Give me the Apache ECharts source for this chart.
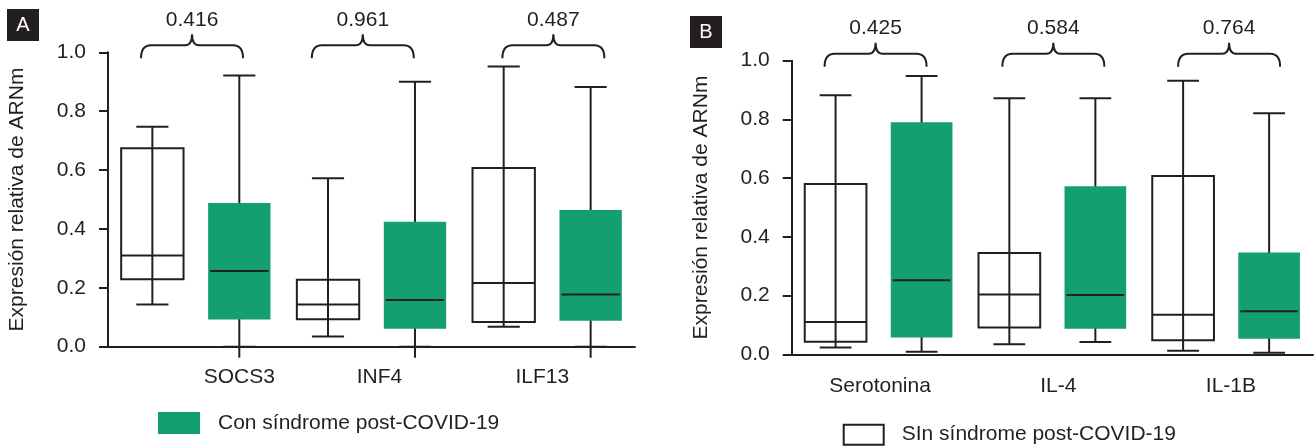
<!DOCTYPE html>
<html><head><meta charset="utf-8">
<script src="https://cdn.jsdelivr.net/npm/echarts@6/dist/echarts.min.js"></script>
<style>html,body{margin:0;padding:0;background:#fff}#c{width:1316px;height:446px}</style>
</head><body><div id="c"></div>
<script>
// ---------- data ----------
const categoriesA = ['SOCS3', 'INF4', 'ILF13'];
const categoriesB = ['Serotonina', 'IL-4', 'IL-1B'];
// each entry: [min, Q1, median, Q3, max]
const sinA = [[0.143, 0.229, 0.310, 0.674, 0.747], [0.035, 0.093, 0.143, 0.227, 0.572], [0.068, 0.084, 0.216, 0.607, 0.952]];
const conA = [[0.000, 0.092, 0.257, 0.488, 0.921], [0.000, 0.061, 0.159, 0.424, 0.900], [0.000, 0.088, 0.177, 0.464, 0.882]];
const sinB = [[0.023, 0.043, 0.110, 0.580, 0.882], [0.034, 0.091, 0.204, 0.345, 0.872], [0.012, 0.048, 0.135, 0.607, 0.932]];
const conB = [[0.009, 0.057, 0.252, 0.790, 0.948], [0.042, 0.087, 0.202, 0.572, 0.872], [0.005, 0.053, 0.147, 0.347, 0.821]];
const pValuesA = ['0.416', '0.961', '0.487'];
const pValuesB = ['0.425', '0.584', '0.764'];
const yMin = 0, yMax = 1, yStep = 0.2;
const seriesNames = ['SIn síndrome post-COVID-19', 'Con síndrome post-COVID-19'];
const yTitle = 'Expresión relativa de ARNm';
const panelLabels = ['A', 'B'];

// ---------- layout / style ----------
const FONT = 'Liberation Sans, Arial, sans-serif';
const INK = '#231f20';
const GREEN = '#13a06e';
const FS = 21;
const braceCuspA = [-3.8, -8.7, 6.2], braceCuspB = [-3, 1, 3];
const labelShiftA = [43.5, 8, -4.8], labelShiftB = [1.5, 6, 4.8];

function labelRich(shifts) {
  const rich = {};
  shifts.forEach((s, i) => {
    rich['c' + i] = {
      fontSize: FS, fontFamily: FONT, color: INK,
      padding: s >= 0 ? [0, 0, 0, 2 * s] : [0, -2 * s, 0, 0]
    };
  });
  return rich;
}

function boxRender(sign, filled, tickBelow) {
  return function (params, api) {
    const ci = api.value(0);
    const band = api.size([1, 0])[0];
    const cx = api.coord([ci, 0])[0] + sign * band * 0.2475;
    const w = band * 0.355, cap = band * 0.183;
    const y = k => api.coord([ci, api.value(k)])[1];
    const yMn = y(1), yQ1 = y(2), yMd = y(3), yQ3 = y(4), yMx = y(5);
    const ls = { stroke: INK, lineWidth: 2 };
    const ch = [];
    ch.push({ type: 'line', shape: { x1: cx, y1: yMn, x2: cx, y2: yMx }, style: ls });
    if (tickBelow) {
      ch.push({ type: 'line', shape: { x1: cx, y1: api.coord([ci, 0])[1], x2: cx, y2: api.coord([ci, 0])[1] + 11 }, style: ls });
    }
    if (filled) {
      ch.push({ type: 'rect', shape: { x: cx - w / 2, y: yQ3, width: w, height: yQ1 - yQ3 }, style: { fill: GREEN } });
      ch.push({ type: 'line', shape: { x1: cx - w / 2 + 2, y1: yMd, x2: cx + w / 2 - 2, y2: yMd }, style: ls });
    } else {
      ch.push({ type: 'rect', shape: { x: cx - w / 2, y: yQ3, width: w, height: yQ1 - yQ3 }, style: { fill: 'none', stroke: INK, lineWidth: 2 } });
      ch.push({ type: 'line', shape: { x1: cx - w / 2, y1: yMd, x2: cx + w / 2, y2: yMd }, style: ls });
    }
    ch.push({ type: 'line', shape: { x1: cx - cap / 2, y1: yMx, x2: cx + cap / 2, y2: yMx }, style: ls });
    ch.push({ type: 'line', shape: { x1: cx - cap / 2, y1: yMn, x2: cx + cap / 2, y2: yMn }, style: ls });
    return { type: 'group', children: ch };
  };
}

function braceRender(pvals, cusps) {
  return function (params, api) {
    const ci = api.value(0);
    const pt = api.coord([ci, api.value(1)]);
    const cx = pt[0] + cusps[ci], gy = pt[1];
    const x0 = cx - 51, x1 = cx + 51;
    const yE = gy + 6, yH = gy - 7, yC = gy - 18;
    const d = `M${x0} ${yE} Q${x0} ${yH} ${x0 + 10} ${yH} L${cx - 7} ${yH} Q${cx} ${yH} ${cx} ${yC} Q${cx} ${yH} ${cx + 7} ${yH} L${x1 - 10} ${yH} Q${x1} ${yH} ${x1} ${yE}`;
    return {
      type: 'group', children: [
        { type: 'path', shape: { pathData: d }, style: { fill: 'none', stroke: INK, lineWidth: 2 } },
        { type: 'text', x: cx, y: gy - 32, style: { text: pvals[ci], fontSize: FS, fontFamily: FONT, fill: INK, align: 'center', verticalAlign: 'middle' } }
      ]
    };
  };
}

const grids = [
  { left: 108, top: 52.3, width: 527, height: 294.4 },
  { left: 791.7, top: 60.7, width: 521.3, height: 293.6 }
];

function xAxisFor(idx, cats, shifts, margin) {
  return {
    type: 'category', gridIndex: idx, data: cats, boundaryGap: true,
    axisLine: { show: true, lineStyle: { color: INK, width: 2 } },
    axisTick: { show: false },
    axisLabel: { margin: margin, interval: 0, formatter: (v, i) => '{c' + i + '|' + v + '}', rich: labelRich(shifts) },
    splitLine: { show: false }
  };
}
function yAxisFor(idx) {
  return {
    type: 'value', gridIndex: idx, min: yMin, max: yMax, interval: yStep,
    name: yTitle, nameLocation: 'middle', nameRotate: 90, nameGap: 80,
    nameTextStyle: { fontSize: FS, fontFamily: FONT, color: INK },
    axisLine: { show: true, lineStyle: { color: INK, width: 2 } },
    axisTick: { show: true, length: 9, inside: false, lineStyle: { color: INK, width: 2 } },
    axisLabel: { margin: 22, fontSize: FS, fontFamily: FONT, color: INK, formatter: v => v.toFixed(1) },
    splitLine: { show: false }
  };
}

const toRows = arr => arr.map((d, i) => [i].concat(d));
const boxEncode = { x: 0, y: [1, 2, 3, 4, 5] };

const option = {
  animation: false,
  backgroundColor: '#fff',
  grid: grids,
  xAxis: [xAxisFor(0, categoriesA, labelShiftA, 20), xAxisFor(1, categoriesB, labelShiftB, 21)],
  yAxis: [yAxisFor(0), yAxisFor(1)],
  legend: [
    {
      left: 158, top: 412, padding: 0, itemWidth: 42, itemHeight: 22, selectedMode: false,
      data: [{ name: seriesNames[1], icon: 'rect', itemStyle: { color: GREEN, borderWidth: 0 } }],
      textStyle: { fontSize: FS, fontFamily: FONT, color: INK, padding: [0, 0, 0, 13] }
    },
    {
      left: 842.7, top: 423.7, padding: 0, itemWidth: 40, itemHeight: 20, selectedMode: false,
      data: [{ name: seriesNames[0], icon: 'rect', itemStyle: { color: '#fff', borderColor: INK, borderWidth: 2 } }],
      textStyle: { fontSize: FS, fontFamily: FONT, color: INK, padding: [0, 0, 0, 13] }
    }
  ],
  graphic: [
    { type: 'rect', left: 7, top: 9, shape: { width: 32, height: 32 }, style: { fill: INK } },
    { type: 'text', x: 23, y: 25, style: { text: panelLabels[0], fontSize: 20, fontFamily: FONT, fill: '#fff', align: 'center', verticalAlign: 'middle' } },
    { type: 'rect', left: 690, top: 16, shape: { width: 32, height: 32 }, style: { fill: INK } },
    { type: 'text', x: 706, y: 32, style: { text: panelLabels[1], fontSize: 20, fontFamily: FONT, fill: '#fff', align: 'center', verticalAlign: 'middle' } }
  ],
  series: [
    { type: 'custom', name: seriesNames[0], xAxisIndex: 0, yAxisIndex: 0, clip: false, color: '#fff', data: toRows(sinA), encode: boxEncode, renderItem: boxRender(-1, false, false) },
    { type: 'custom', name: seriesNames[1], xAxisIndex: 0, yAxisIndex: 0, clip: false, color: GREEN, data: toRows(conA), encode: boxEncode, renderItem: boxRender(1, true, true) },
    { type: 'custom', name: seriesNames[0], xAxisIndex: 1, yAxisIndex: 1, clip: false, color: '#fff', data: toRows(sinB), encode: boxEncode, renderItem: boxRender(-1, false, false) },
    { type: 'custom', name: seriesNames[1], xAxisIndex: 1, yAxisIndex: 1, clip: false, color: GREEN, data: toRows(conB), encode: boxEncode, renderItem: boxRender(1, true, false) },
    { type: 'custom', name: 'pA', xAxisIndex: 0, yAxisIndex: 0, clip: false, silent: true, data: categoriesA.map((c, i) => [i, yMax]), encode: { x: 0, y: 1 }, renderItem: braceRender(pValuesA, braceCuspA) },
    { type: 'custom', name: 'pB', xAxisIndex: 1, yAxisIndex: 1, clip: false, silent: true, data: categoriesB.map((c, i) => [i, yMax]), encode: { x: 0, y: 1 }, renderItem: braceRender(pValuesB, braceCuspB) }
  ]
};

const chart = echarts.init(document.getElementById('c'), null, { renderer: 'canvas' });
chart.setOption(option);
</script>
</body></html>
